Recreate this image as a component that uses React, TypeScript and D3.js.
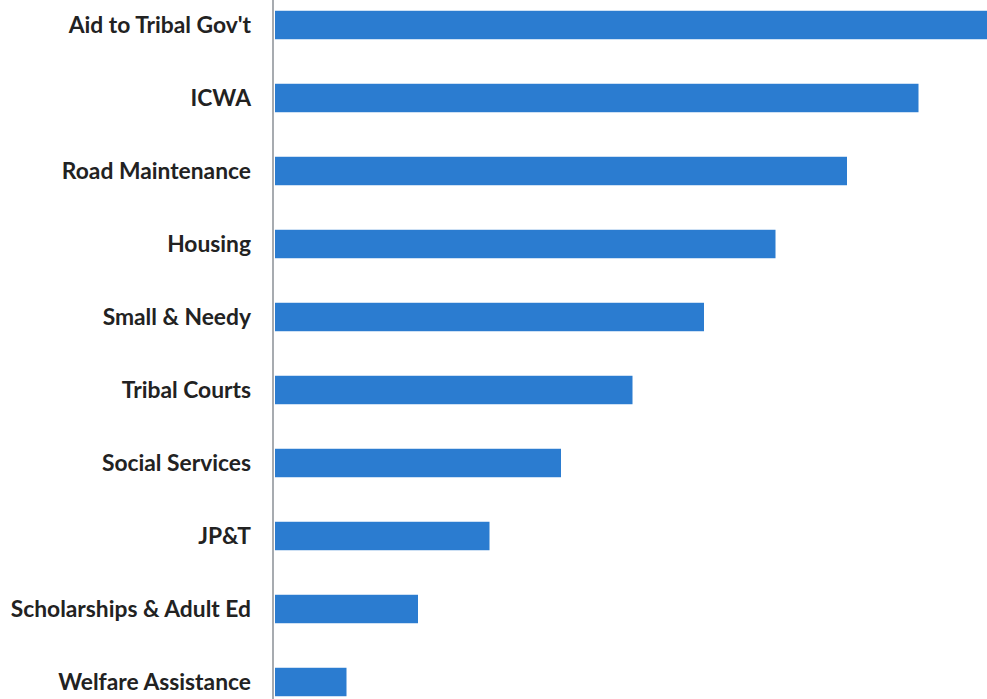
import React from "react";
import * as d3 from "d3";

const categories = [
  "Aid to Tribal Gov't",
  "ICWA",
  "Road Maintenance",
  "Housing",
  "Small & Needy",
  "Tribal Courts",
  "Social Services",
  "JP&T",
  "Scholarships & Adult Ed",
  "Welfare Assistance",
];
const values = [10, 9, 8, 7, 6, 5, 4, 3, 2, 1];

const W = 987;
const H = 699;

export default function App() {
  const x = d3.scaleLinear().domain([0, 10]).range([275, 990]);
  const y = d3
    .scaleBand<string>()
    .domain(categories)
    .range([-11.5, 718.5])
    .paddingInner(0.61)
    .paddingOuter(0.305);
  const data = categories.map((c, i) => ({ c, v: values[i] }));
  return (
    <svg
      width={W}
      height={H}
      style={{ position: "absolute", left: 0, top: 0, background: "#fff" }}
    >
      {data.map((d) => (
        <rect
          key={d.c}
          x={x(0)}
          y={y(d.c)!}
          width={x(d.v) - x(0)}
          height={y.bandwidth()}
          fill="#2b7cd0"
        />
      ))}
      <line x1={273} x2={273} y1={0} y2={H} stroke="#8a8f96" strokeWidth={1.5} />
      {data.map((d) => (
        <text
          key={"t" + d.c}
          x={251}
          y={y(d.c)! + y.bandwidth() / 2}
          dy="0.35em"
          textAnchor="end"
          fontFamily="Lato, 'Open Sans', sans-serif"
          fontWeight={700}
          fontSize={22.8}
          fill="#222"
        >
          {d.c}
        </text>
      ))}
    </svg>
  );
}
